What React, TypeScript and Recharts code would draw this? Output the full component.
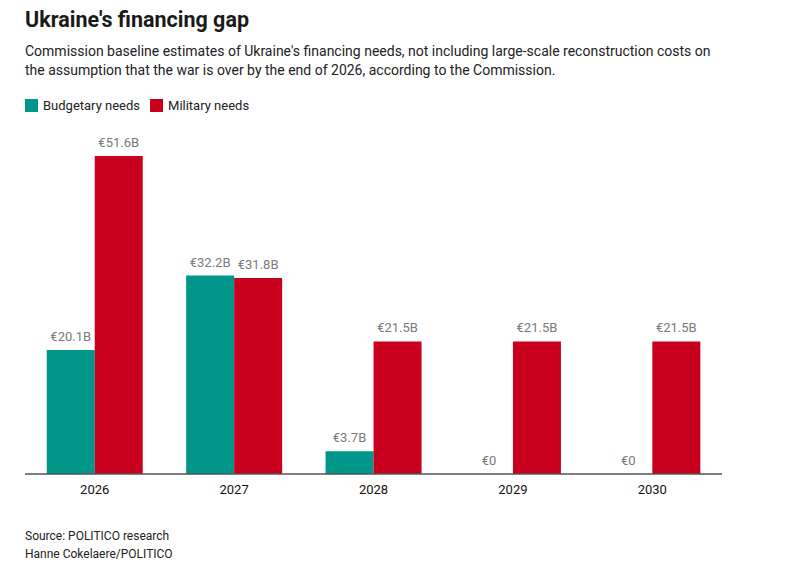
import React from "react";
import { BarChart, Bar, XAxis, YAxis, LabelList, Rectangle } from "recharts";

const years = ["2026", "2027", "2028", "2029", "2030"];
const budgetary = [20.1, 32.2, 3.7, 0, 0];
const military = [51.6, 31.8, 21.5, 21.5, 21.5];

const data = years.map((y, i) => ({ year: y, budgetary: budgetary[i], military: military[i] }));

const TEAL = "#00968a";
const RED = "#c8001e";
const FONT = "Roboto, 'Noto Sans', sans-serif";

const fmt = (v: number) => (v === 0 ? "€0" : `€${v.toFixed(1)}B`);

const LabelText = ({ x, y, text }: { x: number; y: number; text: string }) => (
  <text x={x} y={y} textAnchor="middle" fill="#7a7a7a" fontSize={13} fontFamily={FONT}>
    {text}
  </text>
);

const renderLabel = (props: any) => {
  const { x, y, width, value } = props;
  if (value === 0) return null;
  return <LabelText x={x + width / 2} y={y - 9} text={fmt(value)} />;
};

const ShapeWithZero = (props: any) => {
  const { x, y, width, height, value, fill } = props;
  const v = Array.isArray(value) ? value[1] - value[0] : value;
  return (
    <g>
      {height > 0 && <Rectangle x={x} y={y} width={width} height={height} fill={fill} />}
      {v === 0 && <LabelText x={x + width / 2} y={y - 9} text={fmt(0)} />}
    </g>
  );
};

export default function App() {
  return (
    <div
      style={{
        position: "fixed",
        top: 0,
        left: 0,
        width: 800,
        height: 572,
        background: "#fff",
        fontFamily: FONT,
        color: "#222",
      }}
    >
      <div style={{ position: "absolute", left: 25, top: 7, fontSize: 21.5, fontWeight: 700, color: "#1a1a1a" }}>
        Ukraine's financing gap
      </div>
      <div style={{ position: "absolute", left: 25, top: 42, width: 770, fontSize: 14, lineHeight: "19px", color: "#222" }}>
        Commission baseline estimates of Ukraine's financing needs, not including large-scale reconstruction costs on
        <br />
        the assumption that the war is over by the end of 2026, according to the Commission.
      </div>
      <div style={{ position: "absolute", left: 25, top: 98, display: "flex", alignItems: "center", fontSize: 13, color: "#222" }}>
        <span style={{ width: 13, height: 13, background: TEAL, display: "inline-block", marginRight: 5 }} />
        <span style={{ marginRight: 10 }}>Budgetary needs</span>
        <span style={{ width: 13, height: 13, background: RED, display: "inline-block", marginRight: 5 }} />
        <span>Military needs</span>
      </div>
      <div style={{ position: "absolute", left: 0, top: 0 }}>
        <BarChart
          width={800}
          height={572}
          data={data}
          margin={{ top: 153.5, right: 78, bottom: 68, left: 25 }}
          barCategoryGap="15.6%"
          barGap={0}
        >
          <XAxis
            dataKey="year"
            axisLine={{ stroke: "#555", strokeWidth: 1.5 }}
            tickLine={false}
            tick={{ fill: "#111", fontSize: 13, fontFamily: FONT }}
            tickMargin={5}
          />
          <YAxis hide domain={[0, 52]} />
          <Bar dataKey="budgetary" fill={TEAL} isAnimationActive={false} shape={ShapeWithZero}>
            <LabelList dataKey="budgetary" content={renderLabel} />
          </Bar>
          <Bar dataKey="military" fill={RED} isAnimationActive={false}>
            <LabelList dataKey="military" content={renderLabel} />
          </Bar>
        </BarChart>
      </div>
      <div style={{ position: "absolute", left: 25, top: 527, fontSize: 12, lineHeight: "18px", color: "#222" }}>
        Source: POLITICO research
        <br />
        Hanne Cokelaere/POLITICO
      </div>
    </div>
  );
}
